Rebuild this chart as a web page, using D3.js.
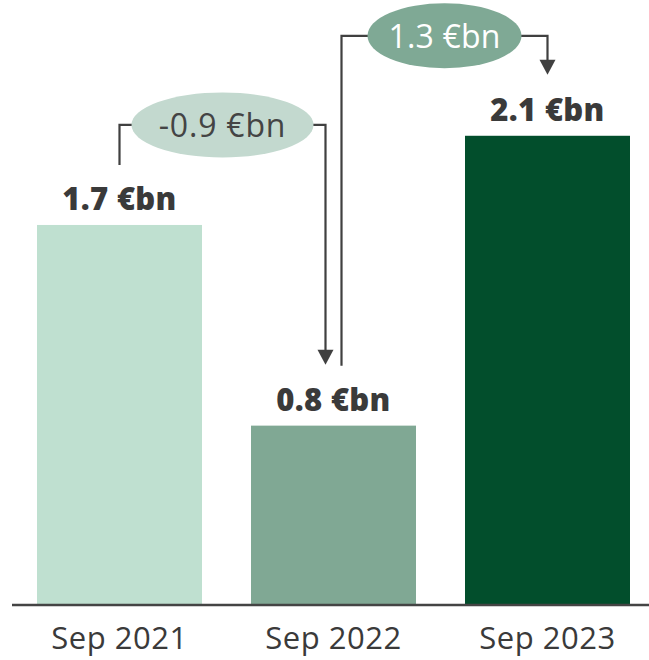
<!DOCTYPE html>
<html>
<head>
<meta charset="utf-8">
<script src="https://cdn.jsdelivr.net/npm/d3@7"></script>
<style>
  html, body { margin: 0; padding: 0; background: #ffffff; }
  svg { display: block; }
</style>
</head>
<body>
<svg id="chart" width="649" height="660"></svg>
<script>
// Reporting periods and their values (€bn)
const periods = ["Sep 2021", "Sep 2022", "Sep 2023"];
const values = [1.7, 0.8, 2.1];
const barColors = ["#bfe0d0", "#80a894", "#024e2c"];

// Period-to-period changes shown in the bubbles
const changeFrom = [0, 1];
const changeTo = [1, 2];
const changeLabels = ["-0.9 €bn", "1.3 €bn"];
const bubbleFills = ["#c3d9cf", "#7fa995"];
const bubbleText = ["#444444", "#ffffff"];

const svg = d3.select("#chart");
const W = 649, H = 660;
const baseY = 604;

const x = d3.scaleBand()
  .domain(periods)
  .range([12.5, 654.5])
  .paddingInner(0.229)
  .paddingOuter(0.1145);

const y = d3.scaleLinear()
  .domain([0, 2.7])
  .range([baseY, 2]);

const fontFam = "'Open Sans', 'DejaVu Sans', sans-serif";
const ink = "#3a3a3a";

// Bars
svg.append("g").selectAll("rect")
  .data(values)
  .join("rect")
  .attr("x", (d, i) => x(periods[i]))
  .attr("y", d => y(d))
  .attr("width", x.bandwidth())
  .attr("height", d => baseY - y(d))
  .attr("fill", (d, i) => barColors[i]);

// Value labels
svg.append("g").selectAll("text")
  .data(values)
  .join("text")
  .attr("x", (d, i) => x(periods[i]) + x.bandwidth() / 2)
  .attr("y", d => y(d) - 15)
  .attr("text-anchor", "middle")
  .attr("font-family", fontFam)
  .attr("font-weight", 800)
  .attr("font-size", 31)
  .attr("letter-spacing", 0.3)
  .attr("fill", ink)
  .text(d => d3.format(".1f")(d) + " €bn");

// Baseline axis
const xAxis = d3.axisBottom(x).tickSize(0).tickPadding(0);
const axisG = svg.append("g")
  .attr("transform", `translate(0,${baseY + 1})`)
  .call(xAxis);
axisG.select(".domain").remove();
axisG.append("line")
  .attr("x1", 12).attr("x2", W)
  .attr("y1", 0).attr("y2", 0)
  .attr("stroke", "#444444")
  .attr("stroke-width", 2.5);
axisG.selectAll(".tick text")
  .attr("y", 44)
  .attr("dy", 0)
  .attr("font-family", fontFam)
  .attr("font-size", 31)
  .attr("letter-spacing", 0.5)
  .attr("fill", ink);

// Change brackets with arrows and bubbles
const cx = i => x(periods[i]) + x.bandwidth() / 2;
const arrowW = 16, arrowH = 15;

changeFrom.forEach((fromIdx, k) => {
  const toIdx = changeTo[k];
  const startX = cx(fromIdx) + (k === 0 ? 0 : 8);
  const endX = cx(toIdx) - (k === 0 ? 8 : 0);
  const startY = y(values[fromIdx]) - 60;
  const tipY = y(values[toIdx]) - 61;
  const topY = Math.min(y(values[fromIdx]), y(values[toIdx])) - 100;

  const g = svg.append("g");
  g.append("path")
    .attr("d", `M${startX},${startY} V${topY} H${endX} V${tipY - arrowH + 1}`)
    .attr("fill", "none")
    .attr("stroke", "#404040")
    .attr("stroke-width", 2.2);
  g.append("path")
    .attr("d", `M${endX - arrowW / 2},${tipY - arrowH} L${endX + arrowW / 2},${tipY - arrowH} L${endX},${tipY} Z`)
    .attr("fill", "#404040");

  const mx = (startX + endX) / 2;
  const rx = k === 0 ? 91 : 77;
  g.append("ellipse")
    .attr("cx", mx)
    .attr("cy", topY)
    .attr("rx", rx)
    .attr("ry", 32.5)
    .attr("fill", bubbleFills[k]);
  g.append("text")
    .attr("x", mx)
    .attr("y", topY + 12)
    .attr("text-anchor", "middle")
    .attr("font-family", fontFam)
    .attr("font-size", 32)
    .attr("letter-spacing", k === 0 ? 0.8 : 0.2)
    .attr("fill", bubbleText[k])
    .text(changeLabels[k]);
});
</script>
</body>
</html>
